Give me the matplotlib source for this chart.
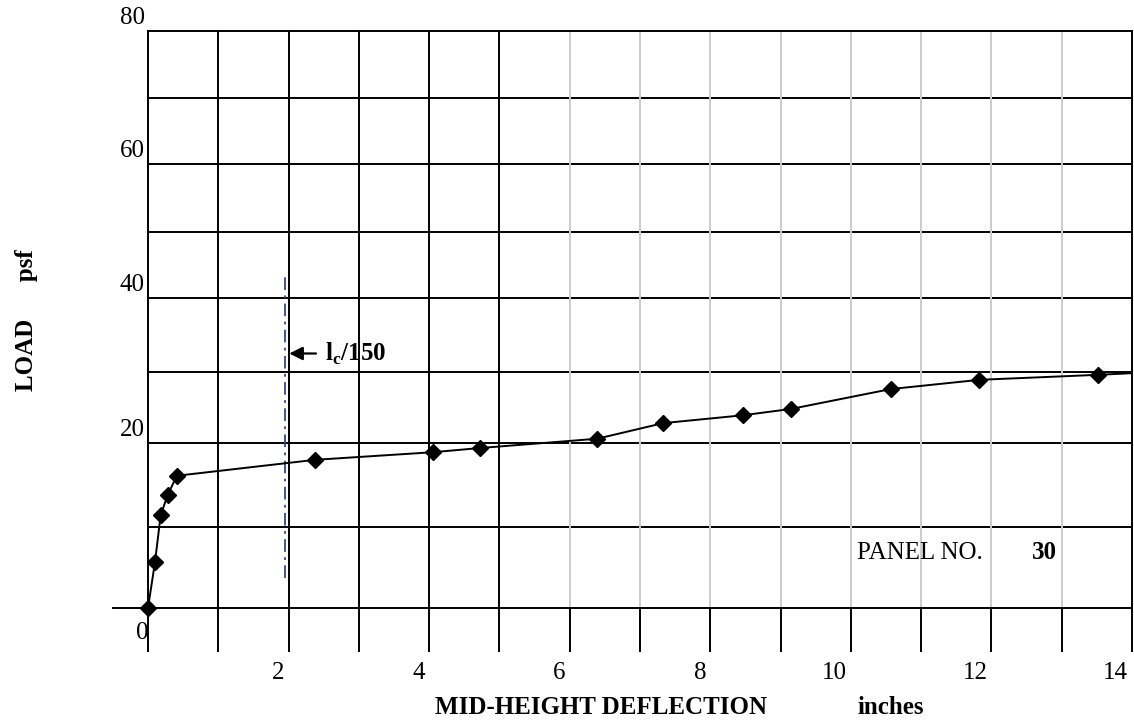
import matplotlib
matplotlib.use("Agg")
import matplotlib.pyplot as plt
import numpy as np

plt.rcParams['font.family'] = 'Liberation Serif'
plt.rcParams['mathtext.fontset'] = 'custom'
plt.rcParams['mathtext.rm'] = 'Liberation Serif'
plt.rcParams['mathtext.bf'] = 'Liberation Serif:bold'

# Load test, panel 30: mid-height deflection (in) vs. load (psf)
deflexao = [0.0, 0.10, 0.18, 0.28, 0.41, 2.38, 4.05, 4.72, 6.39, 7.33,
            8.46, 9.15, 10.57, 11.83, 13.51, 15.0]
carga = [0.0, 5.7, 11.4, 13.8, 16.1, 18.0, 18.9, 19.4, 20.6, 22.8,
         23.9, 24.8, 27.6, 28.9, 29.6, 30.3]

limite_defl = 1.95          # l_c/150
limite_faixa = [3.7, 43.5]  # vertical extent of the limit line

rotulos_x = [2, 4, 6, 8, 10, 12, 14]
rotulos_y = [20, 40, 60, 80]

# rows of the printed grid paper are not evenly spaced
linhas_grade = [0, 10, 20, 30, 40, 50, 60, 70, 80]
altura_linhas = [0, 81, 165, 236, 310, 376, 444, 510, 577]


def escala_ida(y):
    return np.interp(y, linhas_grade, altura_linhas)


def escala_volta(y):
    return np.interp(y, altura_linhas, linhas_grade)


fig = plt.figure(figsize=(11.34, 7.26), dpi=100)
ax = fig.add_axes([148 / 1134, 1 - 608 / 726, (1132 - 148) / 1134, (608 - 31) / 726])
ax.set_yscale('function', functions=(escala_ida, escala_volta))
ax.set_xlim(0, 14)
ax.set_ylim(0, 80)

# grade
for y in range(10, 80, 10):
    ax.axhline(y, color='black', lw=1.4, zorder=1)
for x in range(1, 14):
    cor = 'black' if x < 6 else '#cccccc'
    ax.axvline(x, color=cor, lw=1.4, zorder=1)

for s in ax.spines.values():
    s.set_linewidth(1.4)
    s.set_color('black')

ax.set_xticks(range(15))
ax.tick_params(axis='x', direction='out', length=32, width=1.4, labelbottom=False)
ax.set_yticks([])
ax.yaxis.set_minor_locator(matplotlib.ticker.NullLocator())
ax.tick_params(axis='y', left=False, labelleft=False)

# x axis line runs a little past the origin
ax.plot([-0.5, 0], [0, 0], color='black', lw=1.4, clip_on=False)

for v in rotulos_x:
    ax.annotate(str(v), xy=(v, 0), xytext=(-4, -65), textcoords='offset pixels',
                ha='right', va='center', fontsize=18, annotation_clip=False)
for v in rotulos_y:
    ax.annotate(str(v), xy=(0, v), xytext=(-3, 13), textcoords='offset pixels',
                ha='right', va='center', fontsize=18, annotation_clip=False)
ax.annotate('0', xy=(0, 0), xytext=(-6, -25), textcoords='offset pixels',
            ha='center', va='center', fontsize=18, annotation_clip=False)

# curva carga x deflexao (linha cortada na borda, marcadores inteiros)
ax.plot(deflexao, carga, color='black', lw=1.4, zorder=5)
ax.plot(deflexao, carga, ls='none', marker='D', ms=8.5, color='black',
        markevery=slice(0, -1), clip_on=False, zorder=6)

# limite l_c/150
ax.plot([limite_defl, limite_defl], limite_faixa, color='#34468c', lw=1.3,
        ls=(0, (7, 3, 1.5, 3)), zorder=4)
ax.annotate('', xy=(limite_defl + 0.02, 32.5), xytext=(2.43, 32.5),
            arrowprops=dict(arrowstyle='-|>', color='black', lw=1.6, mutation_scale=20))
ax.text(2.52, 32.5, r'$\mathbf{l}_{\mathbf{c}}$/150', fontsize=18, fontweight='bold',
        ha='left', va='center')

ax.text(10.09, 6.8, 'PANEL NO.', fontsize=18, ha='left', va='center')
ax.text(12.57, 6.8, '30', fontsize=18, fontweight='bold', ha='left', va='center')

fig.text(435 / 1134, 1 - 707 / 726, 'MID-HEIGHT DEFLECTION', fontsize=18,
         fontweight='bold', ha='left', va='center')
fig.text(857 / 1134, 1 - 707 / 726, 'inches', fontsize=18,
         fontweight='bold', ha='left', va='center')
fig.text(26 / 1134, 1 - 320 / 726, 'LOAD      psf', fontsize=18, fontweight='bold',
         rotation=90, ha='center', va='center')

fig.savefig('out.png', dpi=100)
